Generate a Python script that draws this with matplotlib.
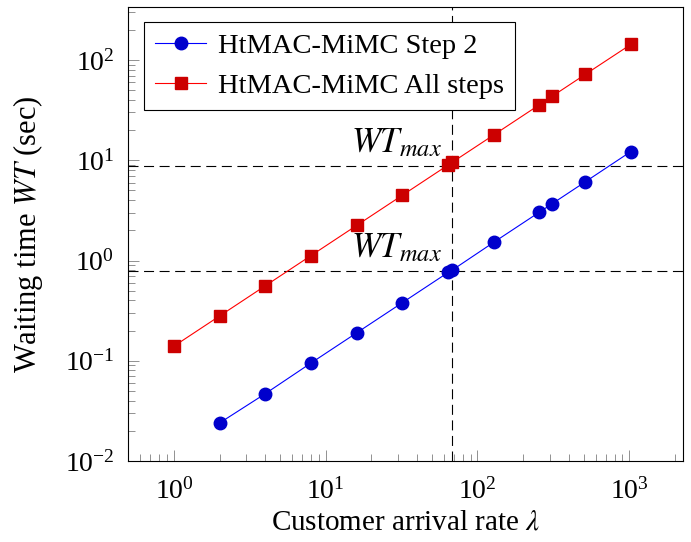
import matplotlib
matplotlib.use('Agg')
import matplotlib.pyplot as plt
from matplotlib.ticker import LogLocator, NullFormatter

plt.rcParams['font.family'] = ['Liberation Serif', 'DejaVu Serif']
plt.rcParams['mathtext.fontset'] = 'stix'

# arrival rates (lambda)
rate_step2 = [2, 4, 8, 16, 32, 64, 68, 128, 256, 310, 512, 1024]
rate_all = [1, 2, 4, 8, 16, 32, 64, 68, 128, 256, 310, 512, 1024]

# waiting times (sec)
wt_step2 = [0.024, 0.047, 0.095, 0.19, 0.38, 0.76, 0.80, 1.52, 3.04, 3.68, 6.08, 12.2]
wt_all = [0.14, 0.28, 0.56, 1.12, 2.24, 4.48, 8.96, 9.52, 17.9, 35.8, 43.4, 71.7, 143]

# WT_max thresholds and the matching arrival rate
wt_max = [8.8, 0.79]
rate_max = 68

fig = plt.figure(figsize=(6.91, 5.42), dpi=100)
ax = fig.add_axes([0.1857, 0.1494, 0.8027, 0.8382])

ax.plot(rate_step2, wt_step2, color='#0000ff', lw=0.8, marker='o', ms=9,
        mfc='#0000cc', mec='#0000cc', label='HtMAC-MiMC Step 2', zorder=3)
ax.plot(rate_all, wt_all, color='#ff0000', lw=0.8, marker='s', ms=8.5,
        mfc='#cc0000', mec='#cc0000', label='HtMAC-MiMC All steps', zorder=3)

# threshold lines
for w in wt_max:
    ax.axhline(w, color='black', lw=0.8, ls=(0, (9, 5)), zorder=2)
    ax.annotate(r'$WT_{max}$', xy=(rate_max, w), xytext=(-7, 4),
                textcoords='offset points', ha='right', va='bottom', fontsize=25)
ax.axvline(rate_max, color='black', lw=0.8, ls=(0, (9, 5)), zorder=2)

ax.set_xscale('log')
ax.set_yscale('log')
ax.set_xlim(0.5, 2260)
ax.set_ylim(0.01, 340)

ax.xaxis.set_major_locator(LogLocator(base=10, numticks=10))
ax.yaxis.set_major_locator(LogLocator(base=10, numticks=10))
ax.xaxis.set_minor_locator(LogLocator(base=10, subs=range(2, 10), numticks=20))
ax.yaxis.set_minor_locator(LogLocator(base=10, subs=range(2, 10), numticks=20))
ax.xaxis.set_minor_formatter(NullFormatter())
ax.yaxis.set_minor_formatter(NullFormatter())

ax.tick_params(which='both', direction='in', top=False, right=False,
               color='#808080', width=0.6, labelsize=20)
ax.tick_params(which='major', length=8, pad=10)
ax.tick_params(which='major', axis='x', pad=12)
ax.tick_params(which='minor', length=5)
for s in ax.spines.values():
    s.set_linewidth(0.8)

ax.set_xlabel(r'Customer arrival rate $\lambda$', fontsize=21, labelpad=4)
ax.set_ylabel(r'Waiting time $WT$ (sec)', fontsize=22, labelpad=14)

leg = ax.legend(loc='upper left', bbox_to_anchor=(0.029, 0.9654), borderaxespad=0,
                fontsize=20.5, fancybox=False, framealpha=1, edgecolor='black',
                handlelength=1.8, labelspacing=0.5, borderpad=0.38, handletextpad=0.4)
leg.get_frame().set_linewidth(0.8)

fig.savefig('out.png', dpi=100)
